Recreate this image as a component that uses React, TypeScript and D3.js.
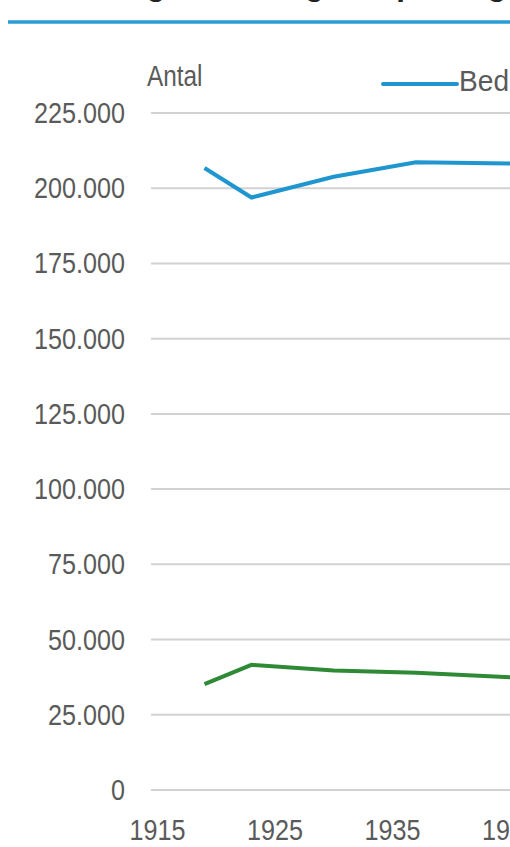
import { useEffect, useRef } from "react";
import * as d3 from "d3";

// Aflæst fra referencen (årstal og antal)
const years = [1919, 1923, 1930, 1937, 1946];
const bedrifter = [206700, 196900, 203800, 208600, 208200];
const husmandsbrug = [35200, 41600, 39700, 39000, 37300];

const yTicks = [0, 25000, 50000, 75000, 100000, 125000, 150000, 175000, 200000, 225000];
const xTicks = [1915, 1925, 1935, 1945];

const title = "Udvikling i landbrugets opdeling";
const yLabel = "Antal";
const legendLabel = "Bedrifter";

const W = 510;
const H = 847;
const FONT = "'Liberation Sans', Arial, sans-serif";
const SX = 0.84; // smal skrift: presser teksten vandret sammen

export default function App() {
  const hostRef = useRef<HTMLDivElement | null>(null);

  useEffect(() => {
    if (!hostRef.current) return;
    const host = hostRef.current;
    host.innerHTML = "";

    const x = d3.scaleLinear().domain([1915, 1945]).range([157.5, 510]);
    const y = d3.scaleLinear().domain([0, 225000]).range([790, 113]);

    const svg = d3
      .create("svg")
      .attr("width", W)
      .attr("height", H)
      .attr("viewBox", `0 0 ${W} ${H}`)
      .style("display", "block")
      .style("background", "#fff");

    // tekst med smal (sammenpresset) skrift
    const label = (
      parent: d3.Selection<any, any, any, any>,
      tx: number,
      ty: number,
      txt: string,
      anchor = "start",
      size = 30,
      fill = "#5a5a5a",
      sx = SX
    ) =>
      parent
        .append("text")
        .attr("transform", `translate(${tx},${ty}) scale(${sx},1)`)
        .attr("text-anchor", anchor)
        .attr("font-family", FONT)
        .attr("font-size", size)
        .attr("fill", fill)
        .text(txt);

    // titel (kun underkanten er synlig)
    label(svg, 26, -5, title, "start", 31, "#222", 1).attr("font-weight", 700);

    svg
      .append("line")
      .attr("x1", 8)
      .attr("x2", W)
      .attr("y1", 22)
      .attr("y2", 22)
      .attr("stroke", "#2a9dd4")
      .attr("stroke-width", 3.5);

    // gitterlinjer
    svg
      .append("g")
      .selectAll("line")
      .data(yTicks)
      .join("line")
      .attr("x1", 151)
      .attr("x2", W)
      .attr("y1", (d) => y(d))
      .attr("y2", (d) => y(d))
      .attr("stroke", "#d2d2d2")
      .attr("stroke-width", 2);

    const fmt = (v: number) => d3.format(",")(v).replace(/,/g, ".");

    const yAxis = svg.append("g");
    yTicks.forEach((d) => label(yAxis, 125, y(d) + 10, fmt(d), "end"));

    const xAxis = svg.append("g");
    xTicks.forEach((d) => label(xAxis, x(d), 840, String(d), "middle"));

    label(svg, 147, 86, yLabel, "start", 29);

    // legende
    svg
      .append("line")
      .attr("x1", 383)
      .attr("x2", 457)
      .attr("y1", 84)
      .attr("y2", 84)
      .attr("stroke", "#1f96cf")
      .attr("stroke-width", 4)
      .attr("stroke-linecap", "round");
    label(svg, 459, 91, legendLabel, "start", 29, "#5a5a5a", 0.97);

    const line = (vals: number[]) =>
      d3
        .line<number>()
        .x((_, i) => x(years[i]))
        .y((d) => y(d))(vals);

    svg
      .append("path")
      .attr("d", line(bedrifter))
      .attr("fill", "none")
      .attr("stroke", "#1f96cf")
      .attr("stroke-width", 4)
      .attr("stroke-linejoin", "miter");

    svg
      .append("path")
      .attr("d", line(husmandsbrug))
      .attr("fill", "none")
      .attr("stroke", "#2f8a36")
      .attr("stroke-width", 4)
      .attr("stroke-linejoin", "miter");

    host.appendChild(svg.node()!);
  }, []);

  return <div ref={hostRef} style={{ position: "absolute", left: 0, top: 0, width: W, height: H, overflow: "hidden" }} />;
}
